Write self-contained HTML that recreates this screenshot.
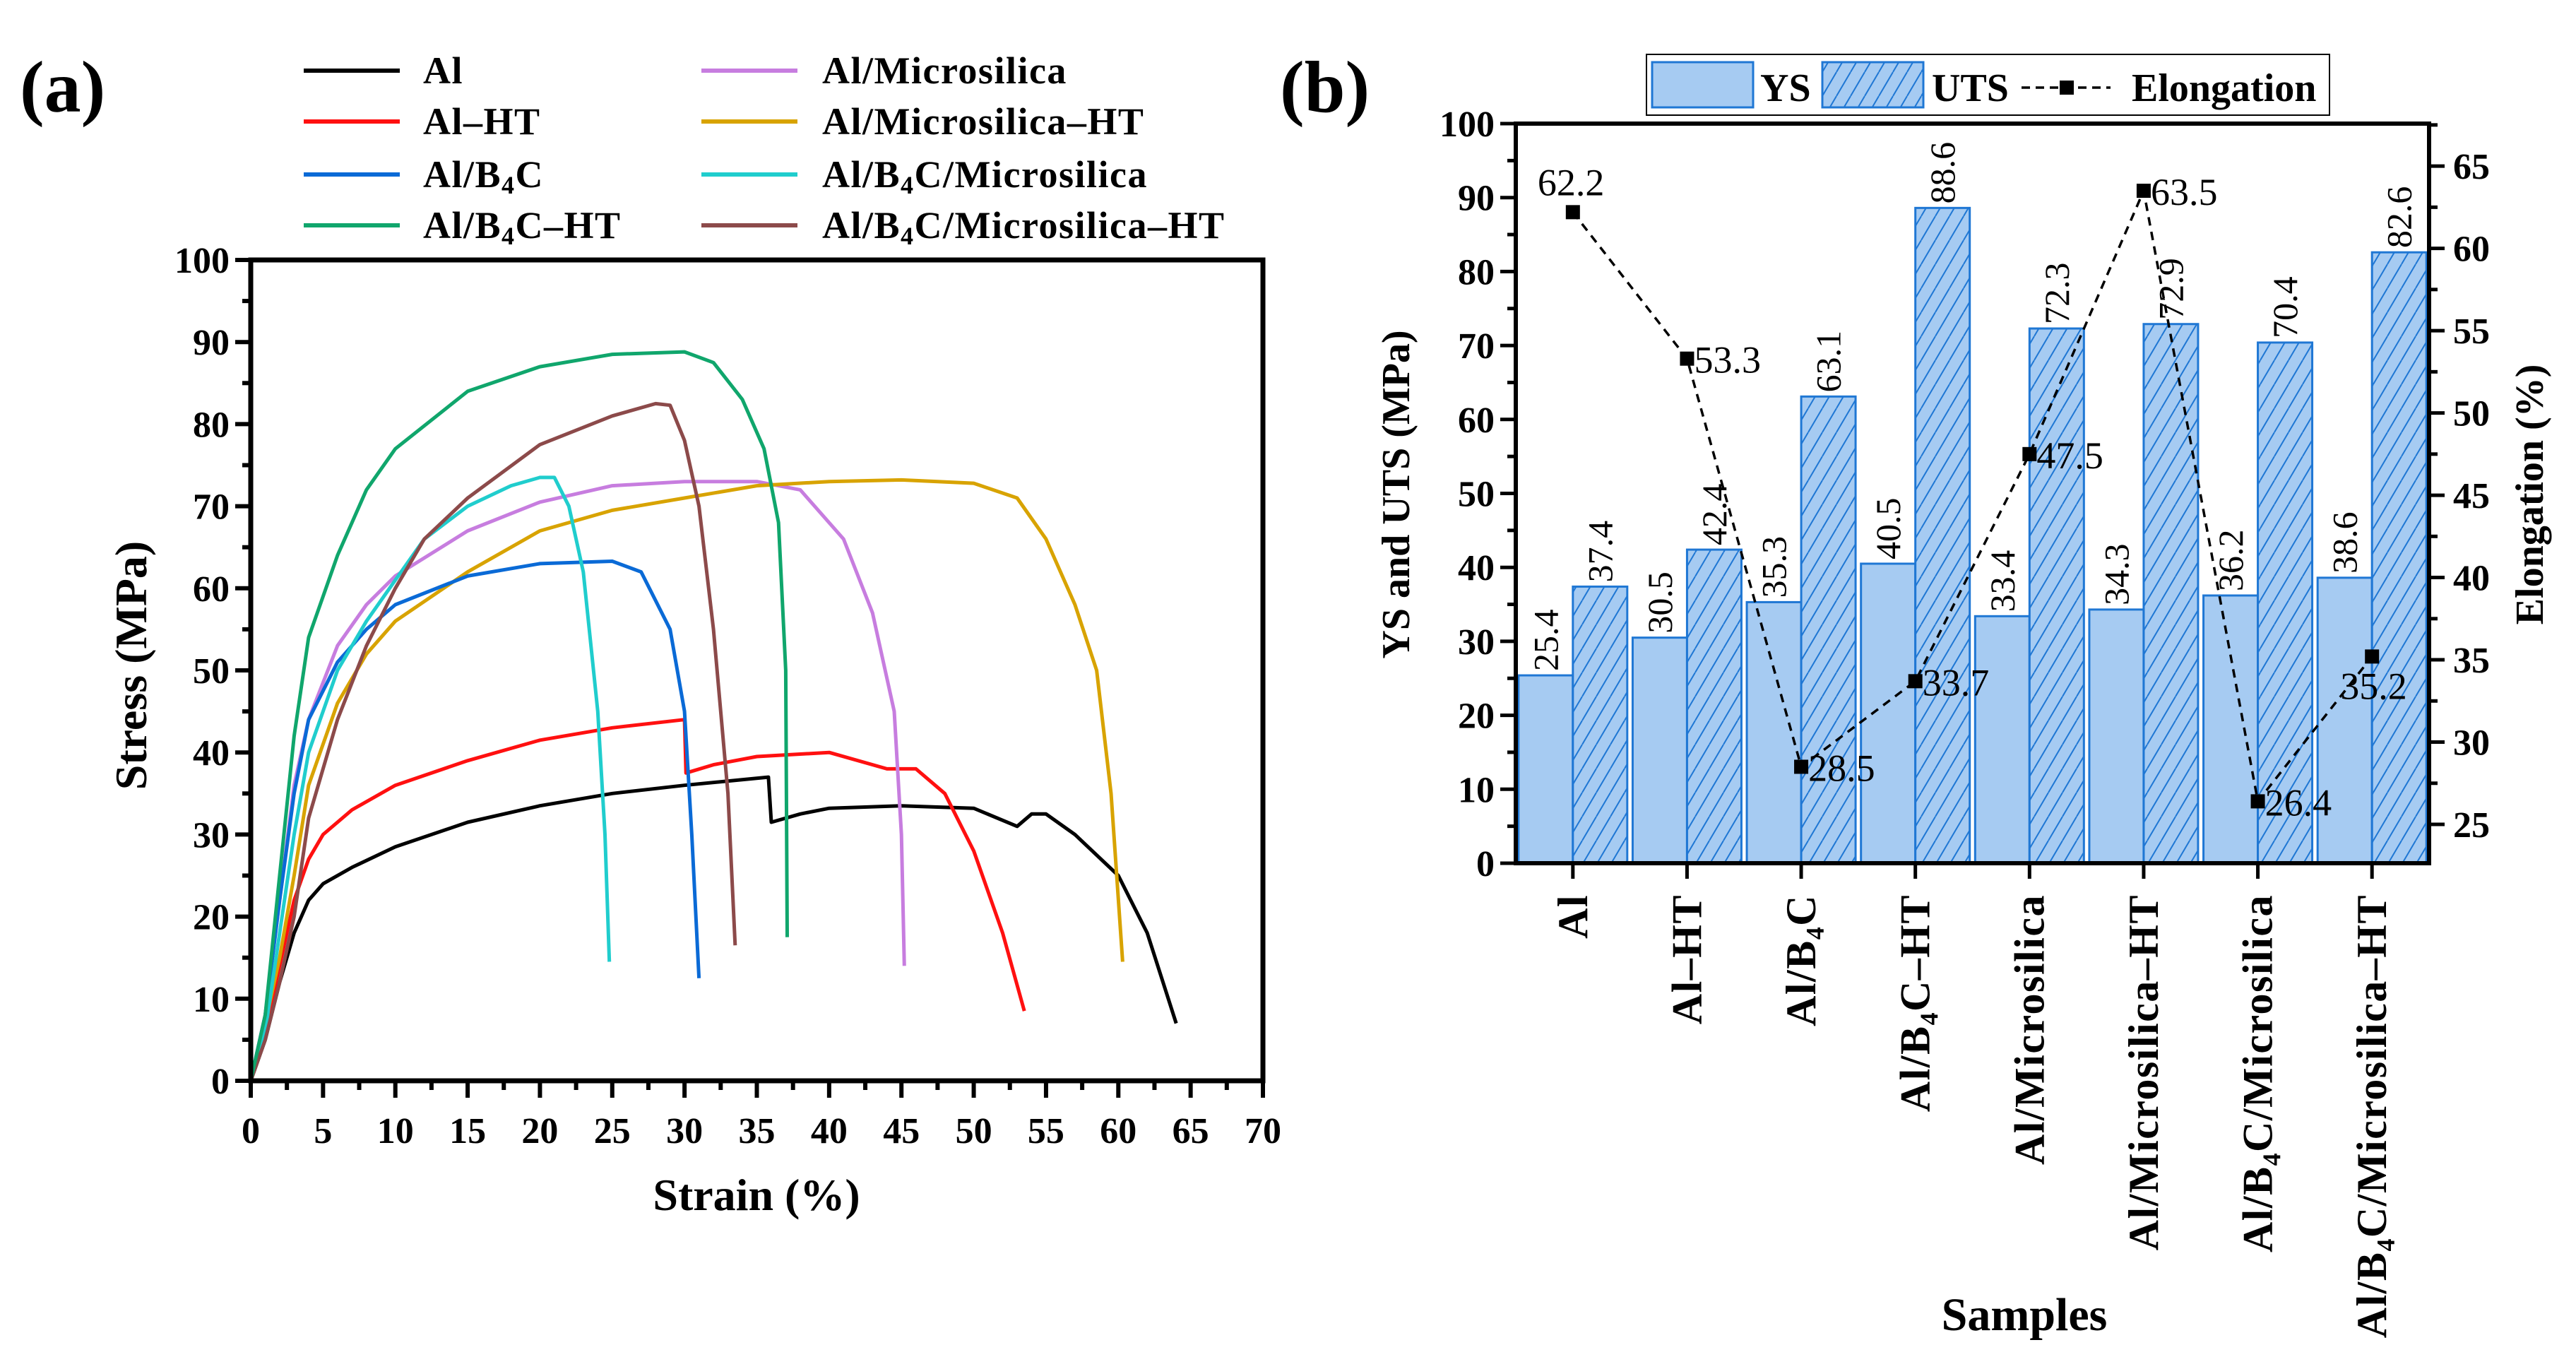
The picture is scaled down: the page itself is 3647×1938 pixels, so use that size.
<!DOCTYPE html>
<html><head><meta charset="utf-8"><style>
html,body{margin:0;padding:0;background:#fff;}
svg{display:block;font-family:"Liberation Serif",serif;}
</style></head><body>
<svg id="fig" width="3647" height="1938" viewBox="0 0 3647 1938" xmlns="http://www.w3.org/2000/svg">
<defs>
<pattern id="hatch" patternUnits="userSpaceOnUse" width="20" height="34">
<rect width="20" height="34" fill="#a6cbf2"/>
<path d="M0,34 L20,0 M-10,17 L0,0 M20,34 L30,17" stroke="#1f77d4" stroke-width="2"/>
</pattern>
</defs>
<g id="pa"></g>
<g id="pb"></g>
</svg>
<script>
// ---------- Panel (a) data ----------
const seriesNames = ["Al","Al–HT","Al/B4C","Al/B4C–HT","Al/Microsilica","Al/Microsilica–HT","Al/B4C/Microsilica","Al/B4C/Microsilica–HT"];
const seriesColors = ["#000000","#ff1010","#0a6ad6","#10a66c","#c77ddf","#d8a300","#20cdcd","#8c4a4a"];
const strainAl = [0,1,2,3,4,5,7,10,15,20,25,30,35.8,36,38,40,45,50,53,54,55,57,60,62,64];
const stressAl = [0,5,12,18,22,24,26,28.5,31.5,33.5,35,36,37,31.5,32.5,33.2,33.5,33.2,31,32.5,32.5,30,25,18,7];
const strainAlHT = [0,1,2,3,4,5,7,10,15,20,25,30,30.1,32,35,40,44,46,48,50,52,53.5];
const stressAlHT = [0,6,14,22,27,30,33,36,39,41.5,43,44,37.5,38.5,39.5,40,38,38,35,28,18,8.5];
const strainB4C = [0,1,2,3,4,6,8,10,15,20,25,27,29,30,30.5,31];
const stressB4C = [0,8,22,35,44,51,55,58,61.5,63,63.3,62,55,45,30,12.5];
const strainB4CHT = [0,1,2,3,4,6,8,10,15,20,25,30,32,34,35.5,36.5,37,37.1];
const stressB4CHT = [0,8,25,42,54,64,72,77,84,87,88.5,88.8,87.5,83,77,68,50,17.5];
const strainMS = [0,1,2,3,4,6,8,10,15,20,25,30,35,38,41,43,44.5,45,45.2];
const stressMS = [0,8,22,36,44,53,58,61.5,67,70.5,72.5,73,73,72,66,57,45,30,14];
const strainMSHT = [0,1,2,3,4,6,8,10,15,20,25,30,35,40,45,50,53,55,57,58.5,59.5,60.3];
const stressMSHT = [0,7,15,25,36,46,52,56,62,67,69.5,71,72.5,73,73.2,72.8,71,66,58,50,35,14.5];
const strainBMS = [0,1,2,3,4,6,8,10,12,15,18,20,21,22,23,24,24.5,24.8];
const stressBMS = [0,6,18,30,40,50,56,61,66,70,72.5,73.5,73.5,70,62,45,30,14.5];
const strainBMSHT = [0,1,2,3,4,6,8,10,12,15,20,25,28,29,30,31,32,33,33.5];
const stressBMSHT = [0,5,12,20,32,44,53,60,66,71,77.5,81,82.5,82.3,78,70,55,35,16.5];
const xTicksA = [0,5,10,15,20,25,30,35,40,45,50,55,60,65,70];
const yTicksA = [0,10,20,30,40,50,60,70,80,90,100];

// ---------- Panel (b) data ----------
const samples = ["Al","Al–HT","Al/B₄C","Al/B₄C–HT","Al/Microsilica","Al/Microsilica–HT","Al/B₄C/Microsilica","Al/B₄C/Microsilica–HT"];
const ysValues = [25.4,30.5,35.3,40.5,33.4,34.3,36.2,38.6];
const utsValues = [37.4,42.4,63.1,88.6,72.3,72.9,70.4,82.6];
const elongValues = [62.2,53.3,28.5,33.7,47.5,63.5,26.4,35.2];
const yTicksB = [0,10,20,30,40,50,60,70,80,90,100];
const y2TicksB = [25,30,35,40,45,50,55,60,65];

const NS="http://www.w3.org/2000/svg";
function mk(tag,attrs,parent,text){const e=document.createElementNS(NS,tag);for(const k in attrs)e.setAttribute(k,attrs[k]);if(text!==undefined)e.textContent=text;parent.appendChild(e);return e;}

// ===== Panel A =====
const A=document.getElementById('pa');
const ax0=355,ax1=1788,ay0=1530,ay1=368;
const xA=v=>ax0+(v/70)*(ax1-ax0);
const yA=v=>ay0-(v/100)*(ay0-ay1);
let t=mk('text',{x:28,y:158,'font-size':104,'font-weight':'bold'},A,'(a)');


const allX=[strainAl,strainAlHT,strainB4C,strainB4CHT,strainMS,strainMSHT,strainBMS,strainBMSHT];
const allY=[stressAl,stressAlHT,stressB4C,stressB4CHT,stressMS,stressMSHT,stressBMS,stressBMSHT];
const drawOrder=[0,1,4,5,2,6,7,3];
drawOrder.forEach(i=>{
  const d=allX[i].map((v,j)=>(j?'L':'M')+xA(v).toFixed(1)+','+yA(allY[i][j]).toFixed(1)).join(' ');
  const p=mk('path',{d:d,fill:'none',stroke:seriesColors[i],'stroke-width':5,'stroke-linejoin':'round'},A);
  
  
});
let fr=mk('rect',{x:ax0,y:ay1,width:ax1-ax0,height:ay0-ay1,fill:'none',stroke:'#000','stroke-width':7},A);


for(let v=0;v<=70;v+=2.5){const X=xA(v);mk('line',{x1:X,y1:ay0,x2:X,y2:ay0+(v%5===0?24:13),stroke:'#000','stroke-width':6},A);}
for(let v=0;v<=100;v+=5){const Y=yA(v);mk('line',{x1:ax0,y1:Y,x2:ax0-(v%10===0?22:12),y2:Y,stroke:'#000','stroke-width':6},A);}
xTicksA.forEach(v=>{const e=mk('text',{x:xA(v),y:ay0+88,'font-size':52,'font-weight':'bold','text-anchor':'middle'},A,String(v));
  
  });
yTicksA.forEach(v=>{const e=mk('text',{x:ax0-30,y:yA(v)+18,'font-size':52,'font-weight':'bold','text-anchor':'end'},A,String(v));
  
  });
t=mk('text',{x:1071,y:1713,'font-size':64,'font-weight':'bold','text-anchor':'middle'},A,'Strain (%)');


t=mk('text',{x:0,y:0,'font-size':64,'font-weight':'bold','text-anchor':'middle',transform:'translate(207,942) rotate(-90)'},A,'Stress (MPa)');


const legLab=['Al','Al–HT','Al/B<tspan font-size="36" dy="9">4</tspan><tspan dy="-9">C</tspan>','Al/B<tspan font-size="36" dy="9">4</tspan><tspan dy="-9">C–HT</tspan>','Al/Microsilica','Al/Microsilica–HT','Al/B<tspan font-size="36" dy="9">4</tspan><tspan dy="-9">C/Microsilica</tspan>','Al/B<tspan font-size="36" dy="9">4</tspan><tspan dy="-9">C/Microsilica–HT</tspan>'];
const rowsY=[100,172,247,319];
for(let i=0;i<8;i++){
  const col=i<4?0:1,row=i%4;
  const lx=col?993:430,tx=col?1164:599;
  const g=mk('g',{},A);
  
  
  mk('line',{x1:lx,y1:rowsY[row],x2:lx+136,y2:rowsY[row],stroke:seriesColors[i],'stroke-width':6},g);
  const tt=mk('text',{x:tx,y:rowsY[row]+18,'font-size':54,'font-weight':'bold','letter-spacing':'1.5'},g);
  tt.innerHTML=legLab[i];
}

// ===== Panel B =====
const B=document.getElementById('pb');
const bx0=2146,bx1=3439,by0=1222,by1=175;
const yB=v=>by0-(v/100)*(by0-by1);
const y2lo=22.64,y2hi=67.58;
const y2B=v=>by0-((v-y2lo)/(y2hi-y2lo))*(by0-by1);
const gw=(bx1-bx0)/samples.length;
const gc=i=>bx0+gw*(i+0.5);
const bw=77;
t=mk('text',{x:1812,y:158,'font-size':104,'font-weight':'bold'},B,'(b)');


samples.forEach((s,i)=>{
  const c=gc(i);
  let r=mk('rect',{x:c-bw,y:yB(ysValues[i]),width:bw,height:by0-yB(ysValues[i]),fill:'#a6cbf2',stroke:'#1f77d4','stroke-width':3},B);
  
  
  r=mk('rect',{x:c,y:yB(utsValues[i]),width:bw,height:by0-yB(utsValues[i]),fill:'url(#hatch)',stroke:'#1f77d4','stroke-width':3},B);
  
  
  let l=mk('text',{x:0,y:0,'font-size':50,transform:`translate(${c-bw/2+17},${yB(ysValues[i])-6}) rotate(-90)`},B,ysValues[i].toFixed(1));
  
  
  l=mk('text',{x:0,y:0,'font-size':50,transform:`translate(${c+bw/2+17},${yB(utsValues[i])-6}) rotate(-90)`},B,utsValues[i].toFixed(1));
  
  
});
const ed=elongValues.map((v,i)=>(i?'L':'M')+gc(i).toFixed(1)+','+y2B(v).toFixed(1)).join(' ');
let el=mk('path',{d:ed,fill:'none',stroke:'#000','stroke-width':3.5,'stroke-dasharray':'12,9'},B);


elongValues.forEach((v,i)=>{
  const X=gc(i),Y=y2B(v);
  const m=mk('rect',{x:X-10,y:Y-10,width:20,height:20,fill:'#000'},B);
  
  
  let lab;
  if(i===0) lab=mk('text',{x:X-50,y:Y-24,'font-size':54},B,v.toFixed(1));
  else if(i===7) lab=mk('text',{x:X-45,y:Y+60,'font-size':54},B,v.toFixed(1));
  else lab=mk('text',{x:X+10,y:Y+20,'font-size':54},B,v.toFixed(1));
  
  
});
fr=mk('rect',{x:bx0,y:by1,width:bx1-bx0,height:by0-by1,fill:'none',stroke:'#000','stroke-width':6},B);


for(let v=0;v<=100;v+=5){const Y=yB(v);mk('line',{x1:bx0,y1:Y,x2:bx0-(v%10===0?22:12),y2:Y,stroke:'#000','stroke-width':5},B);}
for(let v=22.5;v<=67.5;v+=2.5){if(v<y2lo||v>y2hi)continue;const Y=y2B(v);mk('line',{x1:bx1,y1:Y,x2:bx1+(v%5===0?22:12),y2:Y,stroke:'#000','stroke-width':5},B);}
samples.forEach((s,i)=>{mk('line',{x1:gc(i),y1:by0,x2:gc(i),y2:by0+22,stroke:'#000','stroke-width':5},B);});
yTicksB.forEach(v=>{const e=mk('text',{x:bx0-30,y:yB(v)+18,'font-size':52,'font-weight':'bold','text-anchor':'end'},B,String(v));
  
  });
y2TicksB.forEach(v=>{const e=mk('text',{x:bx1+34,y:y2B(v)+18,'font-size':52,'font-weight':'bold'},B,String(v));
  
  });
samples.forEach((s,i)=>{const e=mk('text',{x:0,y:0,'font-size':60,'font-weight':'bold','text-anchor':'end','letter-spacing':'1.5',transform:`translate(${gc(i)+20},${by0+44}) rotate(-90)`},B,s);
  
  });
t=mk('text',{x:2866,y:1883,'font-size':66,'font-weight':'bold','text-anchor':'middle'},B,'Samples');


t=mk('text',{x:0,y:0,'font-size':56,'font-weight':'bold','text-anchor':'middle',transform:'translate(1995,700) rotate(-90)'},B,'YS and UTS (MPa)');


t=mk('text',{x:0,y:0,'font-size':56,'font-weight':'bold','text-anchor':'middle',transform:'translate(3600,700) rotate(-90)'},B,'Elongation (%)');


const lg=mk('g',{},B);


mk('rect',{x:2331,y:77,width:967,height:86,fill:'#fff',stroke:'#000','stroke-width':2},lg);
let li=mk('rect',{x:2339,y:88,width:143,height:64,fill:'#a6cbf2',stroke:'#1f77d4','stroke-width':3},lg);


mk('text',{x:2492,y:143,'font-size':56,'font-weight':'bold'},lg,'YS');
li=mk('rect',{x:2580,y:88,width:143,height:64,fill:'url(#hatch)',stroke:'#1f77d4','stroke-width':3},lg);


mk('text',{x:2735,y:143,'font-size':56,'font-weight':'bold'},lg,'UTS');
mk('line',{x1:2862,y1:124,x2:2988,y2:124,stroke:'#000','stroke-width':3.5,'stroke-dasharray':'12,8'},lg);
li=mk('rect',{x:2916,y:114,width:20,height:20,fill:'#000'},lg);


mk('text',{x:3018,y:143,'font-size':56,'font-weight':'bold'},lg,'Elongation');
</script>
</body></html>
